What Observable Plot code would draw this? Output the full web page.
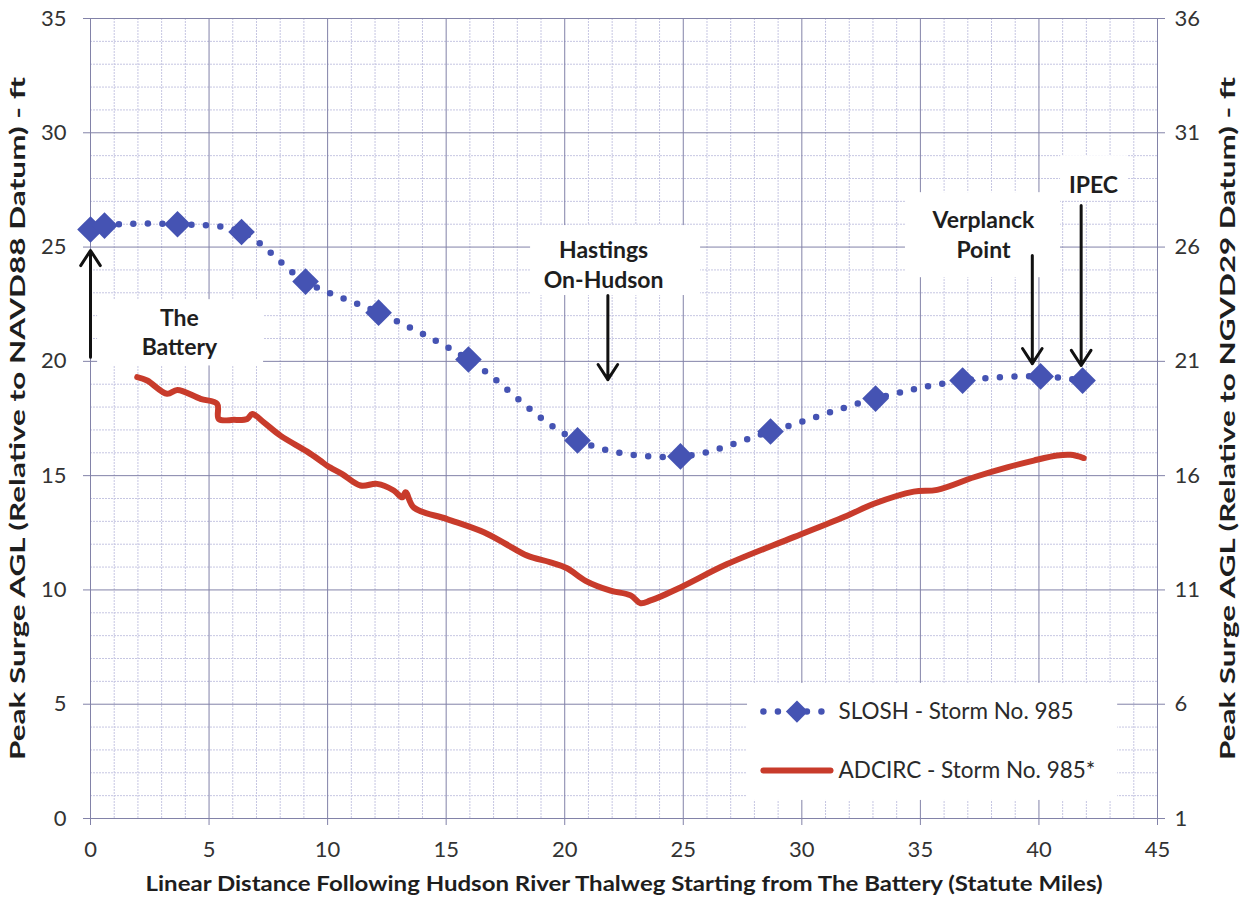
<!DOCTYPE html>
<html>
<head>
<meta charset="utf-8">
<script src="https://cdn.jsdelivr.net/npm/d3@7"></script>
<script src="https://cdn.jsdelivr.net/npm/@observablehq/plot@0.6"></script>
<style>
  html, body { margin: 0; padding: 0; background: #fff; }
  #chart svg { display: block; }
</style>
</head>
<body>
<div id="chart"></div>
<script>
// ---- Data ----
const sloshX = [0, 0.59, 3.67, 6.37, 9.07, 12.15, 15.94, 20.54, 24.88, 28.68, 33.11, 36.78, 40.07, 41.84];
const sloshY = [25.77, 25.94, 26.0, 25.66, 23.49, 22.13, 20.08, 16.54, 15.84, 16.93, 18.37, 19.16, 19.34, 19.16];

const adcircX = [1.97, 2.39, 3.23, 3.66, 4.64, 5.34, 5.41, 6.04, 6.61, 6.82, 7.31, 8.01, 9.14, 9.7, 10.0, 10.6, 11.39, 12.09, 12.79, 13.15, 13.29, 13.64, 15.04, 16.59, 17.5, 18.42, 19.4, 20.1, 20.88, 21.93, 22.78, 23.2, 23.62, 24.88, 26.85, 29.66, 31.91, 33.04, 34.72, 35.71, 37.26, 38.66, 39.78, 40.77, 41.33, 41.89];
const adcircY = [19.31, 19.16, 18.58, 18.75, 18.36, 18.14, 17.48, 17.44, 17.48, 17.7, 17.33, 16.75, 16.05, 15.65, 15.42, 15.08, 14.57, 14.64, 14.35, 14.05, 14.27, 13.6, 13.1, 12.52, 12.02, 11.5, 11.21, 10.95, 10.4, 9.97, 9.76, 9.42, 9.54, 10.11, 11.13, 12.31, 13.25, 13.77, 14.3, 14.38, 14.93, 15.36, 15.66, 15.88, 15.91, 15.77];

const xTicks = [0, 5, 10, 15, 20, 25, 30, 35, 40, 45];
const yTicks = [0, 5, 10, 15, 20, 25, 30, 35];
const rightTickLabels = ["1", "6", "11", "16", "21", "26", "31", "36"];

const xLabel = "Linear Distance Following Hudson River Thalweg Starting from The Battery (Statute Miles)";
const yLabelLeft = "Peak Surge AGL (Relative to NAVD88 Datum) - ft";
const yLabelRight = "Peak Surge AGL (Relative to NGVD29 Datum) - ft";

const seriesNames = ["SLOSH - Storm No. 985", "ADCIRC - Storm No. 985*"];

// annotation text (data coordinates)
const noteText = ["The", "Battery", "Hastings", "On-Hudson", "Verplanck", "Point", "IPEC"];
const noteX = [3.75, 3.75, 21.64, 21.64, 37.66, 37.66, 42.3];
const noteY = [21.87, 20.6, 24.85, 23.53, 26.16, 24.85, 27.69];

// arrows (data coordinates)
const arrowX = [0, 21.82, 39.72, 41.78];
const arrowFromY = [20.18, 22.88, 24.63, 26.82];
const arrowToY = [24.85, 19.2, 19.9, 19.82];

// white label boxes (data coordinates)
const boxX1 = [0.3, 18.56, 34.37, 40.91, 27.71];
const boxX2 = [7.3, 25.73, 40.91, 43.78, 43.32];
const boxY1 = [19.8, 22.88, 23.66, 27.03, 0.79];
const boxY2 = [22.7, 25.94, 27.38, 29.0, 5.91];

// legend layout (data coordinates)
const legendLineX = [28.38, 31.21];
const legendY = [4.68, 2.1];
const legendTextX = 31.55;

// ---- Build tables ----
const slosh = sloshX.map((x, i) => ({x, y: sloshY[i]}));
const adcirc = adcircX.map((x, i) => ({x, y: adcircY[i]}));
const notes = noteText.map((t, i) => ({t, x: noteX[i], y: noteY[i]}));
const arrows = arrowX.map((x, i) => ({x, y1: arrowFromY[i], y2: arrowToY[i]}));
const boxes = boxX1.map((x1, i) => ({x1, x2: boxX2[i], y1: boxY1[i], y2: boxY2[i]}));
const minorX = d3.range(0, 46).filter(d => d % 5 !== 0);
const minorY = d3.range(0, 36).filter(d => d % 5 !== 0);

const blue = "#4553b3";
const red = "#c83b2b";
const major = "#8282a8";
const minor = "#c6c6e2";
const tickText = "#333";

const chart = Plot.plot({
  width: 1245,
  height: 907,
  marginLeft: 90,
  marginRight: 88,
  marginTop: 18,
  marginBottom: 89,
  x: {domain: [0, 45]},
  y: {domain: [0, 35]},
  style: {fontFamily: "Lato, 'Open Sans', sans-serif", fontSize: "22px", color: tickText, background: "#fff"},
  marks: [
    Plot.ruleX(minorX, {stroke: minor, strokeDasharray: "2,1"}),
    Plot.ruleY(minorY, {stroke: minor, strokeDasharray: "2,1"}),
    Plot.ruleX(xTicks, {stroke: major}),
    Plot.ruleY(yTicks, {stroke: major}),
    Plot.axisX({ticks: xTicks, tickSize: 7, tickPadding: 16, label: null, stroke: major, fill: tickText}),
    Plot.axisY({ticks: yTicks, tickSize: 7, tickPadding: 17, label: null, stroke: major, fill: tickText}),
    Plot.axisY({anchor: "right", ticks: yTicks, tickFormat: (d, i) => rightTickLabels[i], tickSize: 7, tickPadding: 10, label: null, stroke: major, fill: tickText}),
    Plot.rect(boxes, {x1: "x1", x2: "x2", y1: "y1", y2: "y2", fill: "#fff"}),
    Plot.line(adcirc, {x: "x", y: "y", curve: "catmull-rom", stroke: red, strokeWidth: 6, strokeLinejoin: "round", strokeLinecap: "round"}),
    Plot.line(slosh, {x: "x", y: "y", curve: "catmull-rom", stroke: blue, strokeWidth: 6.5, strokeDasharray: "0 14.5", strokeLinecap: "round"}),
    Plot.dot(slosh, {x: "x", y: "y", symbol: "diamond2", r: 12, fill: blue, stroke: "none"}),
    Plot.arrow(arrows, {x1: "x", x2: "x", y1: "y1", y2: "y2", stroke: "#111", strokeWidth: 3, headLength: 9, headAngle: 66}),
    Plot.text(notes, {x: "x", y: "y", text: "t", fontWeight: "bold", fontSize: 23, fill: "#1e1e1e"}),
    // legend
    Plot.line(legendLineX.map(x => ({x, y: legendY[0]})), {x: "x", y: "y", stroke: blue, strokeWidth: 6.5, strokeDasharray: "0 14.5", strokeLinecap: "round"}),
    Plot.dot([{x: d3.mean(legendLineX), y: legendY[0]}], {x: "x", y: "y", symbol: "diamond2", r: 10, fill: blue}),
    Plot.line(legendLineX.map(x => ({x, y: legendY[1]})), {x: "x", y: "y", stroke: red, strokeWidth: 6, strokeLinecap: "round"}),
    Plot.text(seriesNames.map((t, i) => ({t, y: legendY[i]})), {x: () => legendTextX, y: "y", text: "t", textAnchor: "start", fontSize: 22.5, fill: "#2a2a2a"}),
    // axis titles
    Plot.text([xLabel], {frameAnchor: "bottom", dy: 72, text: d => d, textAnchor: "middle", fontWeight: "bold", fontSize: 21, fill: "#1e1e1e"}),
    Plot.text([yLabelLeft], {frameAnchor: "left", dx: -72, rotate: -90, text: d => d, textAnchor: "middle", fontWeight: "bold", fontSize: 21, fill: "#1e1e1e"}),
    Plot.text([yLabelRight], {frameAnchor: "right", dx: 71, rotate: -90, text: d => d, textAnchor: "middle", fontWeight: "bold", fontSize: 21, fill: "#1e1e1e"})
  ]
});

// stretch axis titles to the reference lengths
const titleLengths = new Map([[xLabel, 957], [yLabelLeft, 683], [yLabelRight, 683]]);
d3.select(chart).selectAll("text").each(function () {
  const len = titleLengths.get(this.textContent);
  if (len) d3.select(this).attr("textLength", len).attr("lengthAdjust", "spacingAndGlyphs");
});

document.getElementById("chart").appendChild(chart);
</script>
</body>
</html>
